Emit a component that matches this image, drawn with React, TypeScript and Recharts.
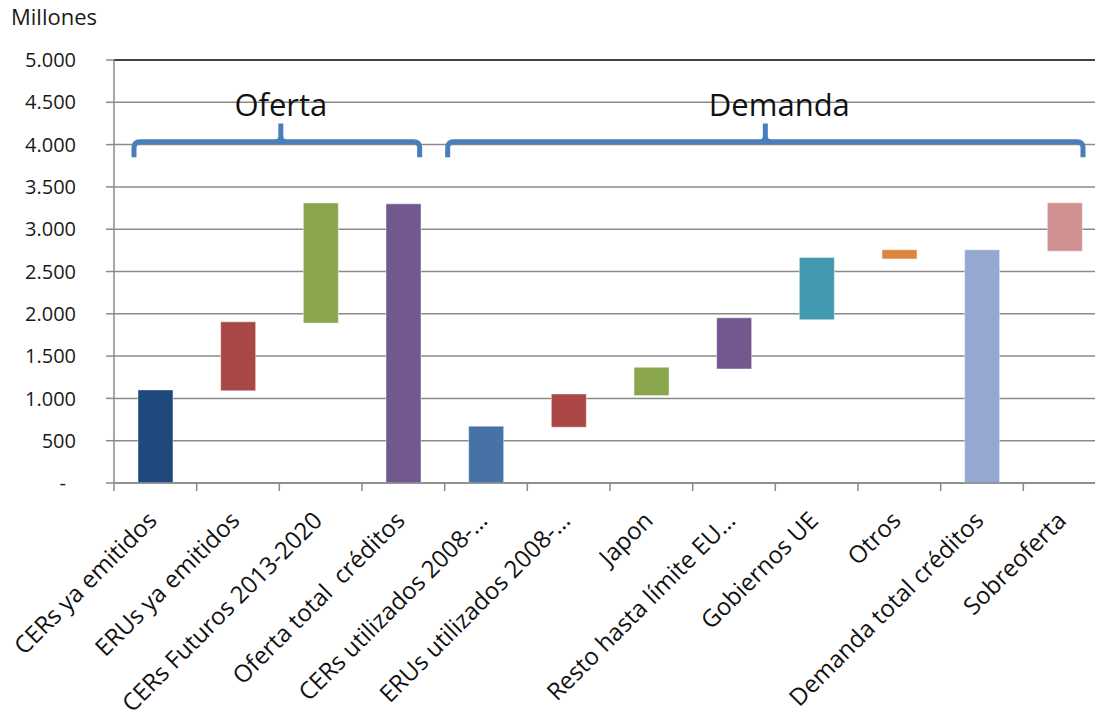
import React from 'react';
import { BarChart, Bar, XAxis, YAxis, CartesianGrid, Cell, ReferenceLine, ReferenceArea } from 'recharts';

const categories = [
  'CERs ya emitidos',
  'ERUs ya emitidos',
  'CERs Futuros 2013-2020',
  'Oferta total  créditos',
  'CERs utilizados 2008-…',
  'ERUs utilizados 2008-…',
  'Japon',
  'Resto hasta límite EU…',
  'Gobiernos UE',
  'Otros',
  'Demanda total créditos',
  'Sobreoferta',
];
const lows = [0, 1090, 1890, 0, 0, 660, 1033, 1348, 1930, 2648, 0, 2740];
const highs = [1100, 1905, 3310, 3300, 672, 1052, 1368, 1952, 2665, 2757, 2757, 3312];
const barColors = [
  '#1F497D', '#A84744', '#8AA64C', '#71588F', '#4672A8', '#AA4644',
  '#8AA64C', '#71588F', '#4198AF', '#DC853F', '#95A9D0', '#D19192',
];
const yTicks = [0, 500, 1000, 1500, 2000, 2500, 3000, 3500, 4000, 4500, 5000];
const yTickLabels = ['-', '500', '1.000', '1.500', '2.000', '2.500', '3.000', '3.500', '4.000', '4.500', '5.000'];
const groupLabels = ['Oferta', 'Demanda'];

const data = categories.map((name, i) => ({ name, range: [lows[i], highs[i]] }));

const FONT = '"Open Sans", sans-serif';
const GRID = '#8a8a8a';
const BRACE = '#4A7EBB';

function YTick(props: any) {
  const { x, y, payload } = props;
  const idx = yTicks.indexOf(payload.value);
  const label = idx >= 0 ? yTickLabels[idx] : String(payload.value);
  const isZero = payload.value === 0;
  return (
    <text x={isZero ? x - 10 : x} y={y} dy="0.357em" textAnchor="end" fontSize={20} fontFamily={FONT} fill="#1a1a1a">
      {label}
    </text>
  );
}

function XTick(props: any) {
  const { x, y, payload } = props;
  const off = payload.offset ?? 0;
  return (
    <g>
      <line x1={x - off} y1={y - 10} x2={x - off} y2={y - 2} stroke={GRID} strokeWidth={1.5} />
      <text
        transform={`translate(${x + 3},${y + 29}) rotate(-45)`}
        textAnchor="end"
        fontSize={24}
        fontFamily={FONT}
        fill="#111"
        style={{ whiteSpace: 'pre' }}
      >
        {payload.value}
      </text>
    </g>
  );
}

const braceShape = (inL: number, inR: number, nubDx: number, textDx: number, label: string) => (props: any) => {
  const { x, y, width, height } = props;
  const l = x + inL;
  const r = x + width - inR;
  const cx = (l + r) / 2 + nubDx;
  const top = y;
  const bot = y + height;
  const ly = y + height * 0.54;
  const rr = 6;
  const d = `M ${l} ${bot} L ${l} ${ly + rr} Q ${l} ${ly} ${l + rr} ${ly} L ${r - rr} ${ly} Q ${r} ${ly} ${r} ${ly + rr} L ${r} ${bot}`;
  const nub = `M ${cx - 5} ${ly} Q ${cx} ${ly} ${cx} ${ly - 6} L ${cx} ${top} M ${cx + 5} ${ly} Q ${cx} ${ly} ${cx} ${ly - 6}`;
  return (
    <g>
      <path d={d} fill="none" stroke={BRACE} strokeWidth={5} strokeLinejoin="round" />
      <path d={nub} fill="none" stroke={BRACE} strokeWidth={5} strokeLinejoin="round" />
      <text x={cx + textDx} y={ly - 26} textAnchor="middle" fontSize={31} fontFamily={FONT} fill="#111">
        {label}
      </text>
    </g>
  );
};

export default function App() {
  return (
    <div style={{ position: 'absolute', left: 0, top: 0, width: 1095, height: 719, overflow: 'hidden', background: '#fff' }}>
      <div
        style={{
          position: 'absolute',
          left: 11,
          top: 3,
          fontSize: 22,
          lineHeight: '26px',
          fontFamily: FONT,
          color: '#1a1a1a',
          zIndex: 2,
        }}
      >
        Millones
      </div>
      <BarChart width={1110} height={733} data={data} margin={{ top: 60, right: 4, bottom: 0, left: 0 }}>
        <CartesianGrid vertical={false} stroke={GRID} strokeWidth={1.5} />
        <XAxis
          dataKey="name"
          interval={0}
          tickSize={8}
          tickMargin={2}
          height={250}
          tickLine={false}
          axisLine={{ stroke: GRID, strokeWidth: 1.5 }}
          tick={<XTick />}
        />
        <YAxis
          domain={[0, 5000]}
          ticks={yTicks}
          interval={0}
          width={114}
          tickSize={8}
          tickMargin={30}
          axisLine={{ stroke: GRID, strokeWidth: 1.5 }}
          tickLine={{ stroke: GRID, strokeWidth: 1.5 }}
          tick={<YTick />}
        />
        <ReferenceLine y={5000} stroke="#222" strokeWidth={1.5} />
        <ReferenceArea
          x1={categories[0]}
          x2={categories[3]}
          y1={3850}
          y2={4250}
          shape={braceShape(20, 25, 4, 0, groupLabels[0])}
        />
        <ReferenceArea
          x1={categories[4]}
          x2={categories[11]}
          y1={3850}
          y2={4250}
          shape={braceShape(3, 23, 0, 14, groupLabels[1])}
        />
        <Bar dataKey="range" barSize={35} isAnimationActive={false} stroke="#ffffff" strokeOpacity={0.45} strokeWidth={1}>
          {data.map((_, i) => (
            <Cell key={i} fill={barColors[i]} />
          ))}
        </Bar>
      </BarChart>
    </div>
  );
}
